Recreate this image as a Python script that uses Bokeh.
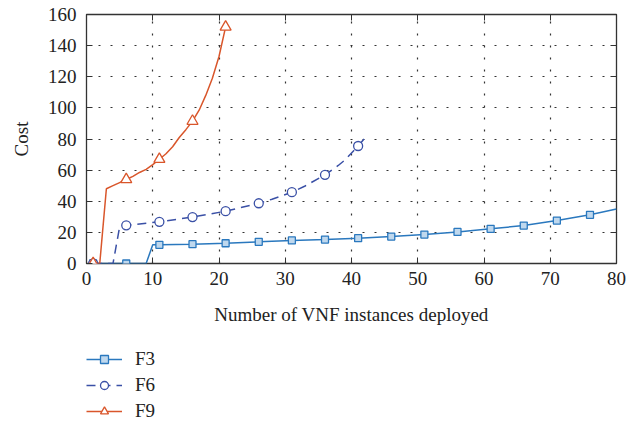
from bokeh.plotting import figure
from bokeh.layouts import column
from bokeh.models import LinearAxis, Legend, LegendItem, Range1d, SingleIntervalTicker, CustomJSTickFormatter
from bokeh.embed import file_html
from bokeh.resources import INLINE

# ---- data ----
f3_x = [1, 6, 9, 10, 11, 16, 21, 26, 31, 36, 41, 46, 51, 56, 61, 66, 71, 76, 80]
f3_y = [0, 0, 0, 12, 12, 12.4, 13, 13.9, 14.8, 15.4, 16.3, 17.3, 18.6, 20.3, 22.3, 24.4, 27.6, 31.3, 35]

f6_x = [1, 4, 5, 6, 11, 16, 21, 26, 28, 31, 33, 36, 38, 39, 41, 42]
f6_y = [0, 0, 23.5, 24.5, 26.8, 29.8, 33.6, 38.7, 41.3, 45.8, 49.8, 57, 63, 66.5, 75.5, 80.5]

f9_x = [1, 2, 3, 4, 5, 6, 7, 8, 9, 10, 11, 12, 13, 14, 15, 16, 17, 18, 19, 20, 21]
f9_y = [0, 0, 48, 50, 52, 54, 56, 58.5, 60.5, 63.5, 67, 70.5, 75, 81, 86, 91.5, 98.5, 108, 119, 133, 152]

marker_x3 = [1, 6, 11, 16, 21, 26, 31, 36, 41, 46, 51, 56, 61, 66, 71, 76]
marker_x6 = [1, 6, 11, 16, 21, 26, 31, 36, 41]
marker_x9 = [1, 6, 11, 16, 21]

labels = ["F3", "F6", "F9"]
x_label = "Number of VNF instances deployed"
y_label = "Cost"

c3, c6, c9 = "#2A78BE", "#3A50A6", "#D9562B"
FONT = "Liberation Serif"

p = figure(output_backend="svg", toolbar_location=None,
           x_range=Range1d(0, 80), y_range=Range1d(0, 160),
           min_border_left=86, min_border_right=15, min_border_top=14, min_border_bottom=0)
p.frame_width = 530
p.frame_height = 249

def pick(xs, ys, mx):
    d = dict(zip(xs, ys))
    return mx, [d[m] for m in mx]

styles = [
    dict(color=c3, dash="solid", marker="square", size=7, lsize=5, fill="#BFD8EE"),
    dict(color=c6, dash="9 6", marker="circle", size=9, lsize=6, fill="white"),
    dict(color=c9, dash="solid", marker="triangle", size=11, lsize=8, fill="white"),
]
series = [(f3_x, f3_y, marker_x3), (f6_x, f6_y, marker_x6), (f9_x, f9_y, marker_x9)]

for (xs, ys, mx), st in zip(series, styles):
    p.line(xs, ys, line_color=st["color"], line_width=1.5, line_dash=st["dash"])
    mxs, mys = pick(xs, ys, mx)
    p.scatter(mxs, mys, marker=st["marker"], size=st["size"], line_color=st["color"],
              fill_color=st["fill"], line_width=1.3)

# axes
for ax in (p.xaxis[0], p.yaxis[0]):
    ax.major_tick_in = 6
    ax.major_tick_out = 0
    ax.minor_tick_line_color = None
    ax.axis_line_color = None
    ax.major_tick_line_color = "#333333"
    ax.major_label_text_font = FONT
    ax.major_label_text_font_size = "19px"
    ax.major_label_text_color = "#222222"
    ax.axis_label_text_font = FONT
    ax.axis_label_text_font_size = "19px"
    ax.axis_label_text_color = "#222222"
    ax.axis_label_text_font_style = "normal"

p.xaxis[0].ticker = SingleIntervalTicker(interval=10)
p.yaxis[0].ticker = SingleIntervalTicker(interval=20)
p.xaxis[0].axis_label = x_label
p.yaxis[0].axis_label = y_label
p.xaxis[0].major_label_standoff = 4
p.yaxis[0].major_label_standoff = 6
p.xaxis[0].axis_label_standoff = 16
p.yaxis[0].axis_label_standoff = 13

blank = CustomJSTickFormatter(code="return '';")
top = LinearAxis(ticker=SingleIntervalTicker(interval=10), formatter=blank)
right = LinearAxis(ticker=SingleIntervalTicker(interval=20), formatter=blank)
for ax in (top, right):
    ax.major_tick_in = 6
    ax.major_tick_out = 0
    ax.minor_tick_line_color = None
    ax.axis_line_color = None
    ax.major_tick_line_color = "#333333"
    ax.major_label_standoff = 0
p.add_layout(top, "above")
p.add_layout(right, "right")

p.outline_line_color = "#333333"
p.outline_line_width = 1.3

p.xgrid.ticker = SingleIntervalTicker(interval=10)
p.ygrid.ticker = SingleIntervalTicker(interval=20)
for g in (p.xgrid[0], p.ygrid[0]):
    g.grid_line_color = "#333333"
    g.grid_line_dash = "2 10"
    g.grid_line_width = 1.2

# ---- legend in its own strip below the chart ----
# the series are drawn here too, but the strip's ranges lie far outside the data,
# so only the legend entries are visible.
lg = figure(width=631, height=92, output_backend="svg", toolbar_location=None,
            x_axis_type=None, y_axis_type=None,
            x_range=Range1d(1000, 1001), y_range=Range1d(1000, 1001), min_border=0)
lg.outline_line_color = None
lg.xgrid.visible = False
lg.ygrid.visible = False
items = []
for lab, (xs, ys, mx), st in zip(labels, series, styles):
    ln = lg.line(xs, ys, line_color=st["color"], line_width=1.5, line_dash=st["dash"])
    sc = lg.scatter(xs, ys, marker=st["marker"], size=st["lsize"], line_color=st["color"],
                    fill_color=st["fill"], line_width=1.3)
    items.append(LegendItem(label=lab, renderers=[ln, sc]))

legend = Legend(items=items, location=(0, 0))
legend.border_line_color = None
legend.background_fill_alpha = 0
legend.padding = 0
legend.margin = 0
legend.spacing = 4
legend.glyph_width = 36
legend.glyph_height = 20
legend.label_height = 20
legend.label_standoff = 13
legend.label_text_font = FONT
legend.label_text_font_size = "19px"
legend.label_text_color = "#222222"
lg.add_layout(legend, "center")

layout = column(p, lg, spacing=3)
open("out.html", "w").write(file_html(layout, INLINE))
